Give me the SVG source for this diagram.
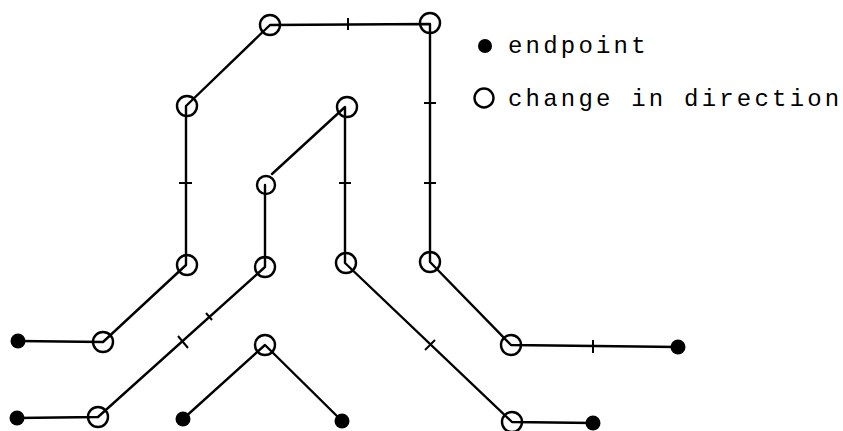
<svg xmlns="http://www.w3.org/2000/svg" width="843" height="431" viewBox="0 0 843 431">
<style>
.w{fill:none;stroke:#000;stroke-width:2.4;stroke-linejoin:round;stroke-linecap:round}
.t{fill:none;stroke:#000;stroke-width:2}
.c{fill:none;stroke:#000;stroke-width:2.4}
.e{fill:#000}
.lbl{font-family:"Liberation Mono","DejaVu Sans Mono",monospace;font-size:24px;letter-spacing:3.2px;fill:#000}
</style>
<rect width="843" height="431" fill="#fff"/>
<g id="connectors">
<polyline class="w" points="18,341 103,342 186,265 186,106 270,25 430,24 430,262 511,345 678,347"/>
<polyline class="w" points="17,418 98,417 265,267 265,185"/>
<polyline class="w" points="272,174 345,107 345,263 512,422 593,423"/>
<polyline class="w" points="183,419 265,345 342,421"/>
<g class="t">
<line x1="179" y1="183" x2="192" y2="183"/>
<line x1="348" y1="18" x2="348" y2="30"/>
<line x1="424" y1="103" x2="436" y2="103"/>
<line x1="424" y1="183" x2="436" y2="183"/>
<line x1="339" y1="183" x2="351" y2="183"/>
<line x1="593" y1="340" x2="593" y2="353"/>
<line x1="178" y1="336" x2="188" y2="348"/>
<line x1="206" y1="313" x2="212" y2="320"/>
<line x1="425" y1="350" x2="435" y2="340"/>
</g>
</g>
<g id="n1"><circle class="c" cx="103" cy="342" r="10"/></g>
<g id="n2"><circle class="c" cx="187" cy="265" r="10"/></g>
<g id="n3"><circle class="c" cx="187" cy="106" r="10"/></g>
<g id="n4"><circle class="c" cx="270" cy="25" r="10"/></g>
<g id="n5"><circle class="c" cx="430" cy="23" r="10"/></g>
<g id="n6"><circle class="c" cx="430" cy="262" r="10"/></g>
<g id="n7"><circle class="c" cx="511" cy="345" r="10"/></g>
<g id="n8"><circle class="c" cx="98" cy="417" r="10"/></g>
<g id="n9"><circle class="c" cx="265" cy="267" r="10"/></g>
<g id="n10"><circle class="c" cx="266" cy="185" r="9"/></g>
<g id="n11"><circle class="c" cx="347" cy="107" r="10"/></g>
<g id="n12"><circle class="c" cx="346" cy="263" r="10"/></g>
<g id="n13"><circle class="c" cx="512" cy="422" r="10"/></g>
<g id="n14"><circle class="c" cx="265" cy="345" r="10"/></g>
<g id="e1"><circle class="e" cx="18" cy="341" r="7.5"/></g>
<g id="e2"><circle class="e" cx="678" cy="347" r="7.5"/></g>
<g id="e3"><circle class="e" cx="17" cy="418" r="7.5"/></g>
<g id="e4"><circle class="e" cx="593" cy="423" r="7.5"/></g>
<g id="e5"><circle class="e" cx="183" cy="419" r="7.5"/></g>
<g id="e6"><circle class="e" cx="342" cy="421" r="7.5"/></g>
<g id="legend">
<circle class="e" cx="485" cy="46" r="7"/>
<text class="lbl" x="508" y="53">endpoint</text>
<circle class="c" cx="484" cy="98" r="9.5"/>
<text class="lbl" x="508" y="106">change in direction</text>
</g>
</svg>
